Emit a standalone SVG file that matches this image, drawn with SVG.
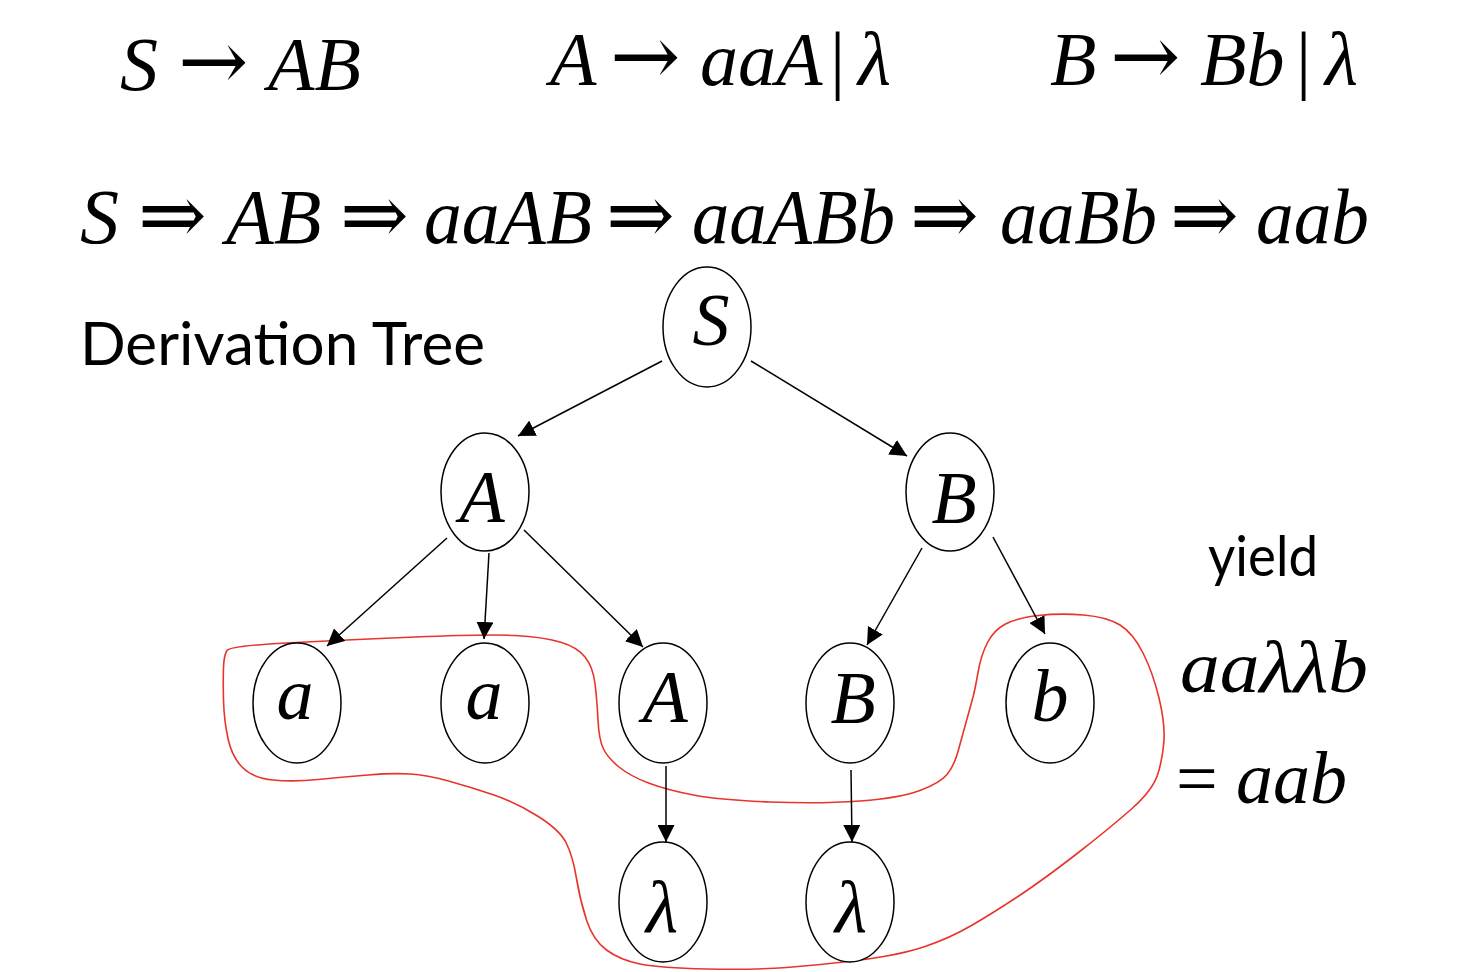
<svg xmlns="http://www.w3.org/2000/svg" width="1474" height="972" viewBox="0 0 1474 972">
  <style>
    .node ellipse { fill: #fff; stroke: #000; stroke-width: 1.5; }
    .edge { stroke: #000; stroke-width: 1.5; fill: none; marker-end: url(#arr); }
    .yield { fill: none; stroke: #e8342b; stroke-width: 1.6; }
  </style>
  <defs>
    <marker id="arr" viewBox="0 0 17 17" refX="17" refY="8.5" markerWidth="17" markerHeight="17" markerUnits="userSpaceOnUse" orient="auto">
      <path d="M0,0 L17,8.5 L0,17 z" fill="#000"/>
    </marker>
  </defs>
  <rect width="1474" height="972" fill="#fff"/>

  <!-- grammar -->
  <g font-family="'Liberation Serif', serif" font-style="italic" font-size="76" fill="#000">
    <text y="90"><tspan x="120">S</tspan><tspan x="178" font-family="'DejaVu Serif', serif" font-style="normal" font-size="84">→</tspan><tspan x="268">AB</tspan></text>
    <text y="85"><tspan x="550">A</tspan><tspan x="610" font-family="'DejaVu Serif', serif" font-style="normal" font-size="84">→</tspan><tspan x="700">aaA</tspan><tspan x="830" font-style="normal">|</tspan><tspan x="858">λ</tspan></text>
    <text y="85"><tspan x="1050">B</tspan><tspan x="1110" font-family="'DejaVu Serif', serif" font-style="normal" font-size="84">→</tspan><tspan x="1200">Bb</tspan><tspan x="1296" font-style="normal">|</tspan><tspan x="1325">λ</tspan></text>
  </g>

  <!-- derivation -->
  <g font-family="'Liberation Serif', serif" font-style="italic" font-size="78" fill="#000">
    <text x="80" y="243">S</text>
    <text x="138" y="243" font-family="'DejaVu Serif', serif" font-style="normal" font-size="82">⇒</text>
    <text x="226" y="243">AB</text>
    <text x="340" y="243" font-family="'DejaVu Serif', serif" font-style="normal" font-size="82">⇒</text>
    <text x="424" y="243" textLength="168" lengthAdjust="spacingAndGlyphs">aaAB</text>
    <text x="606" y="243" font-family="'DejaVu Serif', serif" font-style="normal" font-size="82">⇒</text>
    <text x="692" y="243" textLength="203" lengthAdjust="spacingAndGlyphs">aaABb</text>
    <text x="910" y="243" font-family="'DejaVu Serif', serif" font-style="normal" font-size="82">⇒</text>
    <text x="1000" y="243" textLength="157" lengthAdjust="spacingAndGlyphs">aaBb</text>
    <text x="1170" y="243" font-family="'DejaVu Serif', serif" font-style="normal" font-size="82">⇒</text>
    <text x="1256" y="243" textLength="113" lengthAdjust="spacingAndGlyphs">aab</text>
  </g>

  <text x="80" y="365" font-family="Lato, 'Open Sans', sans-serif" font-size="60" fill="#000" textLength="405" lengthAdjust="spacingAndGlyphs">Derivation Tree</text>
  <text x="1208" y="576" font-family="Lato, 'Open Sans', sans-serif" font-size="56" fill="#000" textLength="110" lengthAdjust="spacingAndGlyphs">yield</text>
  <text x="1180" y="692" font-family="'Liberation Serif', serif" font-style="italic" font-size="74" fill="#000" textLength="188" lengthAdjust="spacingAndGlyphs">aaλλb</text>
  <text y="803" font-family="'Liberation Serif', serif" font-style="italic" font-size="74" fill="#000"><tspan x="1176" font-style="normal">=</tspan><tspan x="1236">aab</tspan></text>

  <!-- yield loop -->
  <path class="yield" d="M227,650.5 Q230,646 286.5,643 Q343,640 415,637 Q487,634 515,635.5 Q543,637 560,642 Q577,647 585,657 Q593,667 595,683.5 Q597,700 598,720 Q599,740 603.5,749 Q608,758 619,767 Q630,776 648.5,783 Q667,790 693.5,795 Q720,800 770,802 Q820,804 860,801 Q900,798 920,790.5 Q940,783 947,774.5 Q954,766 958,751.5 Q962,737 966,722.5 Q970,708 972.5,699 Q975,690 978,672.5 Q981,655 987.5,642.5 Q994,630 1005.5,624 Q1017,618 1038.5,615.5 Q1060,613 1083.5,615 Q1107,617 1120,625 Q1133,633 1143,653 Q1153,673 1159,698 Q1165,723 1164,740 Q1163,757 1158,773.5 Q1153,790 1131.5,809 Q1110,828 1076.5,854 Q1043,880 1018,896.5 Q993,913 971.5,925.5 Q950,938 925,946.5 Q900,955 860,960 Q820,965 786.5,967.5 Q753,970 706.5,969 Q660,968 640,964 Q620,960 606.5,950 Q593,940 586.5,920 Q580,900 576.5,878.5 Q573,857 566.5,843.5 Q560,830 537.5,816 Q515,802 492.5,794.5 Q470,787 448.5,781 Q427,775 410,774 Q393,773 368,775 Q343,777 318,779.5 Q293,782 273,780 Q253,778 242.5,767.5 Q232,757 228,738.5 Q224,720 223.5,700 Q223,680 223.5,667.5 Q224,655 227,650.5 Z"/>

  <!-- connectors -->
  <g id="connectors">
    <line class="edge" x1="662" y1="361" x2="518" y2="436"/>
    <line class="edge" x1="751" y1="361" x2="907" y2="456"/>
    <line class="edge" x1="447" y1="538" x2="327" y2="646"/>
    <line class="edge" x1="489" y1="553" x2="484" y2="639"/>
    <line class="edge" x1="524" y1="530" x2="643" y2="647"/>
    <line class="edge" x1="922" y1="548" x2="867" y2="645"/>
    <line class="edge" x1="993" y1="537" x2="1045" y2="634"/>
    <line class="edge" x1="666" y1="766" x2="666" y2="842"/>
    <line class="edge" x1="851" y1="770" x2="852" y2="842"/>
  </g>

  <!-- nodes -->
  <g font-family="'Liberation Serif', serif" font-style="italic" font-size="74" fill="#000" text-anchor="middle">
    <g id="node-S" class="node"><ellipse cx="707" cy="327" rx="44" ry="60"/><text x="711" y="345">S</text></g>
    <g id="node-A" class="node"><ellipse cx="485" cy="492" rx="44" ry="59"/><text x="482" y="522">A</text></g>
    <g id="node-B" class="node"><ellipse cx="950" cy="492" rx="44" ry="59"/><text x="954" y="523">B</text></g>
    <g id="node-a1" class="node"><ellipse cx="297" cy="703" rx="44" ry="60"/><text x="295" y="719">a</text></g>
    <g id="node-a2" class="node"><ellipse cx="485" cy="703" rx="44" ry="60"/><text x="484" y="719">a</text></g>
    <g id="node-A2" class="node"><ellipse cx="663" cy="703" rx="44" ry="60"/><text x="665" y="722">A</text></g>
    <g id="node-B2" class="node"><ellipse cx="850" cy="703" rx="44" ry="60"/><text x="853" y="723">B</text></g>
    <g id="node-b" class="node"><ellipse cx="1050" cy="703" rx="44" ry="60"/><text x="1050" y="721">b</text></g>
    <g id="node-l1" class="node"><ellipse cx="663" cy="902" rx="44" ry="60"/><text x="662" y="932">λ</text></g>
    <g id="node-l2" class="node"><ellipse cx="850" cy="902" rx="44" ry="60"/><text x="851" y="932">λ</text></g>
  </g>
</svg>
